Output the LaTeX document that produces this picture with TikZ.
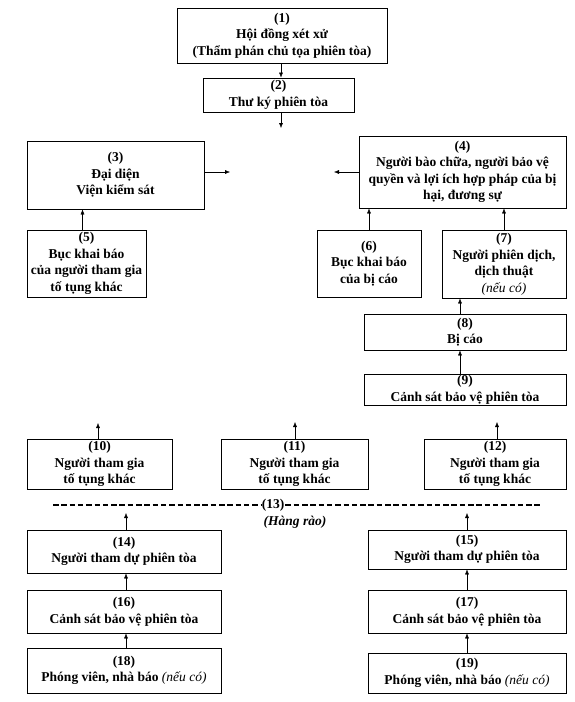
\documentclass[tikz,border=0pt]{standalone}
\usepackage{fontspec}
\setmainfont{Liberation Serif}
\usepackage{tikz}
\usetikzlibrary{arrows.meta}

\begin{document}
\begin{tikzpicture}[
  x=1pt, y=-1pt,
  block/.style={draw, line width=0.9pt, inner xsep=2pt, inner ysep=0pt, align=center,
    font=\fontsize{13.5}{16.5}\selectfont\bfseries},
  lbl/.style={font=\fontsize{13.5}{16.5}\selectfont\bfseries, inner sep=1pt},
  fence/.style={line width=1.6pt, dash pattern=on 5.5pt off 2.8pt},
  >={Latex[length=5pt,width=4pt]}
]
\useasboundingbox (0,0) rectangle (575,702);

% Nodes
\node[block, minimum width=210pt, minimum height=55pt] (hdxx) at (282,35.5) {(1)\\Hội đồng xét xử\\(Thẩm phán chủ tọa phiên tòa)};
\node[block, minimum width=151pt, minimum height=34pt] (tk) at (278.5,95) {(2)\\Thư ký phiên tòa};
\node[block, minimum width=177pt, minimum height=68pt] (vks) at (115.5,175) {(3)\\Đại diện\\Viện kiểm sát};
\node[block, minimum width=207pt, minimum height=72pt] (lsu) at (462.5,172) {(4)\\Người bào chữa, người bảo vệ\\quyền và lợi ích hợp pháp của bị\\hại, đương sự};
\node[block, minimum width=119pt, minimum height=67pt] (bkA) at (86.5,263.5) {(5)\\Bục khai báo\\của người tham gia\\tố tụng khác};
\node[block, minimum width=104pt, minimum height=67pt] (bkB) at (369,263.5) {(6)\\Bục khai báo\\của bị cáo};
\node[block, minimum width=124pt, minimum height=68pt] (pd) at (504,264) {(7)\\Người phiên dịch,\\dịch thuật\\{\mdseries\itshape (nếu có)}};
\node[block, minimum width=202pt, minimum height=36pt] (bc) at (465,332) {(8)\\Bị cáo};
\node[block, minimum width=202pt, minimum height=31pt] (csA) at (465,389.5) {(9)\\Cảnh sát bảo vệ phiên tòa};
\node[block, minimum width=145pt, minimum height=50pt] (tgA) at (99.5,464) {(10)\\Người tham gia\\tố tụng khác};
\node[block, minimum width=147pt, minimum height=50pt] (tgB) at (294.5,464) {(11)\\Người tham gia\\tố tụng khác};
\node[block, minimum width=142pt, minimum height=50pt] (tgC) at (495,464) {(12)\\Người tham gia\\tố tụng khác};

\node[lbl] (hr) at (273,505) {(13)};
\node[lbl, font=\fontsize{13.5}{16.5}\selectfont\bfseries\itshape] (hrten) at (295,522) {(Hàng rào)};
\coordinate (hrL) at (53,505);
\coordinate (hrR) at (542,505);

\node[block, minimum width=194pt, minimum height=43pt] (dA) at (124,551.5) {(14)\\Người tham dự phiên tòa};
\node[block, minimum width=198pt, minimum height=39pt] (dB) at (467,549.5) {(15)\\Người tham dự phiên tòa};
\node[block, minimum width=194pt, minimum height=43pt] (csB) at (124,611.5) {(16)\\Cảnh sát bảo vệ phiên tòa};
\node[block, minimum width=198pt, minimum height=43pt] (csC) at (467,611.5) {(17)\\Cảnh sát bảo vệ phiên tòa};
\node[block, minimum width=194pt, minimum height=45pt] (pvA) at (124,670.5) {(18)\\Phóng viên, nhà báo {\mdseries\itshape (nếu có)}};
\node[block, minimum width=198pt, minimum height=40pt] (pvB) at (467,673) {(19)\\Phóng viên, nhà báo {\mdseries\itshape (nếu có)}};

% Free ends
\coordinate (c2) at (281,128);
\coordinate (c3) at (230,172);
\coordinate (c4) at (334,172);
\coordinate (c10) at (98,423);
\coordinate (c11) at (295,422);
\coordinate (c12) at (497,422);
\coordinate (c14) at (126,513);
\coordinate (c15) at (467,513);

% Connections
\draw[->] (hdxx.south -| c2) -- (tk.north -| c2);
\draw[->] (tk.south -| c2) -- (c2);
\draw[->] (vks.east |- c3) -- (c3);
\draw[->] (lsu.west |- c4) -- (c4);
\draw[->] ([xshift=-4pt]bkA.north) -- ([xshift=-4pt]bkA.north |- vks.south);
\draw[->] (bkB.north) -- (bkB.north |- lsu.south);
\draw[->] (pd.north) -- (pd.north |- lsu.south);
\draw[->] ([xshift=-5pt]bc.north) -- ([xshift=-5pt]bc.north |- pd.south);
\draw[->] ([xshift=-5pt]csA.north) -- ([xshift=-5pt]csA.north |- bc.south);
\draw[->] (tgA.north -| c10) -- (c10);
\draw[->] (tgB.north -| c11) -- (c11);
\draw[->] (tgC.north -| c12) -- (c12);

% Fence
\draw[fence] (hrL) -- (hr.west);
\draw[fence] (hr.east) -- (hrR);

\draw[->] (dA.north -| c14) -- (c14);
\draw[->] (dB.north -| c15) -- (c15);
\draw[->] (csB.north -| c14) -- (dA.south -| c14);
\draw[->] (csC.north -| c15) -- (dB.south -| c15);
\draw[->] (pvA.north -| c14) -- (csB.south -| c14);
\draw[->] (pvB.north -| c15) -- (csC.south -| c15);

\end{tikzpicture}
\end{document}
